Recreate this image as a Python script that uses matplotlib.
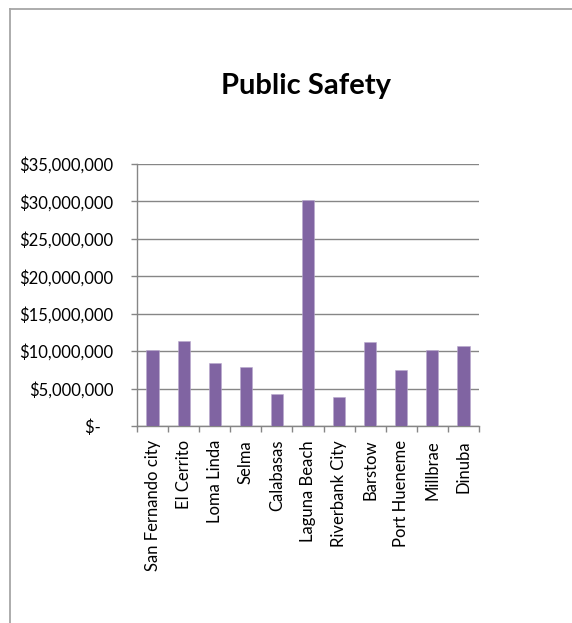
import matplotlib
matplotlib.use("Agg")
import matplotlib.pyplot as plt
from matplotlib.lines import Line2D
from matplotlib.ticker import FixedLocator, FuncFormatter
import numpy as np

cities = ["San Fernando city", "El Cerrito", "Loma Linda", "Selma", "Calabasas",
          "Laguna Beach", "Riverbank City", "Barstow", "Port Hueneme", "Millbrae", "Dinuba"]
spending = [10150000, 11300000, 8380000, 7850000, 4280000,
            30170000, 3880000, 11190000, 7490000, 10150000, 10650000]
y_ticks = [0, 5000000, 10000000, 15000000, 20000000, 25000000, 30000000, 35000000]

plt.rcParams['font.family'] = ['Lato', 'DejaVu Sans']
grey = "#868686"

fig = plt.figure(figsize=(5.72, 6.23), dpi=100)
ax = fig.add_axes([0.2395, 0.3162, 0.5979, 0.4205])

x = np.arange(len(cities))
ax.bar(x, spending, width=0.39, color="#8064A2", edgecolor="#b9a9cd", linewidth=0.4, zorder=3)

ax.set_xlim(-0.5, len(cities) - 0.5)
ax.set_ylim(0, 35000000)

def money(v, pos):
    if v == 0:
        return "$-   "
    return "${:,.0f}".format(v)

ax.yaxis.set_major_locator(FixedLocator(y_ticks))
ax.yaxis.set_major_formatter(FuncFormatter(money))
ax.tick_params(axis="y", length=4, color=grey, width=1, labelsize=12, pad=13)
ax.grid(axis="y", color=grey, linewidth=1, zorder=0)

# category labels sit under the bars, tick marks between them
ax.set_xticks(x)
ax.set_xticklabels(cities, rotation=90)
ax.set_xticks(np.arange(len(cities) + 1) - 0.5, minor=True)
ax.tick_params(axis="x", which="major", length=0, labelsize=12, pad=10)
ax.tick_params(axis="x", which="minor", length=4, color=grey, width=1)

for side in ["top", "right"]:
    ax.spines[side].set_visible(False)
for side in ["left", "bottom"]:
    ax.spines[side].set_color(grey)
    ax.spines[side].set_linewidth(1)

fig.text(0.535, 0.862, "Public Safety", ha="center", va="center", fontsize=21, fontweight="bold")

# chart frame
fig.add_artist(Line2D([10 / 572, 10 / 572], [0, 1 - 9 / 623], color="#a6a6a6", linewidth=1.3))
fig.add_artist(Line2D([10 / 572, 1], [1 - 9 / 623, 1 - 9 / 623], color="#a6a6a6", linewidth=1.3))

fig.savefig("out.png", dpi=100)
